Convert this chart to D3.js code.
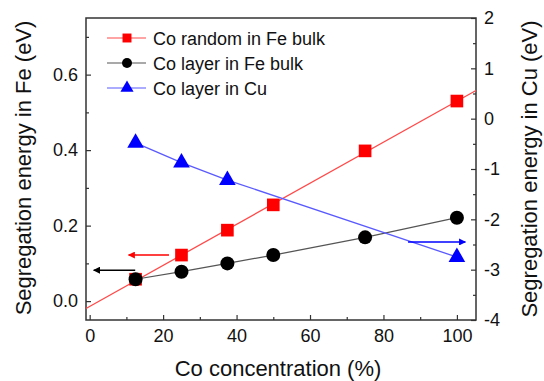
<!DOCTYPE html>
<html><head><meta charset="utf-8">
<script src="https://cdn.jsdelivr.net/npm/d3@7/dist/d3.min.js"></script>
<style>body{margin:0;background:#fff}svg{display:block;font-family:"Liberation Sans",Arial,sans-serif}</style>
</head><body><svg id="c" width="544" height="381"></svg>
<script>
// Data
const xRandom = [12.5, 25, 37.5, 50, 75, 100];
const yRandom = [0.058, 0.122, 0.188, 0.255, 0.398, 0.530];
const redFit = [[-1, -0.0195], [105.2, 0.558]];
const xLayerFe = [12.5, 25, 37.5, 50, 75, 100];
const yLayerFe = [0.058, 0.078, 0.100, 0.122, 0.169, 0.221];
const xLayerCu = [12.5, 25, 37.5, 100];
const yLayerCu = [-0.48, -0.875, -1.22, -2.75];
const xTicks = [0, 20, 40, 60, 80, 100];
const yLeftTicks = [0.0, 0.2, 0.4, 0.6];
const yRightTicks = [-4, -3, -2, -1, 0, 1, 2];
const legendLabels = ["Co random in Fe bulk", "Co layer in Fe bulk", "Co layer in Cu"];
// arrows: [x1, x2, y, axis]
const arrows = [
  {x1: 21.6, x2: 10.6, y: 0.122, axis: "left", color: "#ff0000"},
  {x1: 12.4, x2: 1.1, y: 0.082, axis: "left", color: "#000000"},
  {x1: 86.7, x2: 102.3, y: -2.45, axis: "right", color: "#0000ff"}
];

const svg = d3.select("#c");
const L = 86, R = 476, T = 18, B = 320;
const x = d3.scaleLinear().domain([-1, 105.2]).range([L, R]);
const yL = d3.scaleLinear().domain([-0.05, 0.75]).range([B, T]);
const yR = d3.scaleLinear().domain([-4, 2]).range([B, T]);

const defs = svg.append("defs");
arrows.forEach((a, i) => {
  defs.append("marker").attr("id", "ah" + i).attr("viewBox", "0 0 10 10")
    .attr("refX", 9).attr("refY", 5).attr("markerWidth", 9).attr("markerHeight", 7)
    .attr("markerUnits", "userSpaceOnUse").attr("orient", "auto")
    .append("path").attr("d", "M0,0L10,5L0,10Z").attr("fill", a.color);
});

// Axes
const axisColor = "#333";
const gB = svg.append("g").attr("transform", `translate(0,${B})`)
  .call(d3.axisBottom(x).tickValues(xTicks).tickSize(-5).tickPadding(9).tickFormat(d3.format("d")));
const gBm = svg.append("g").attr("transform", `translate(0,${B})`)
  .call(d3.axisBottom(x).tickValues(d3.range(10, 101, 20)).tickSize(-3).tickFormat(""));
const gL = svg.append("g").attr("transform", `translate(${L},0)`)
  .call(d3.axisLeft(yL).tickValues(yLeftTicks).tickSize(-5).tickPadding(8).tickFormat(d3.format(".1f")));
const gLm = svg.append("g").attr("transform", `translate(${L},0)`)
  .call(d3.axisLeft(yL).tickValues([0.1, 0.3, 0.5, 0.7]).tickSize(-3).tickFormat(""));
const gR = svg.append("g").attr("transform", `translate(${R},0)`)
  .call(d3.axisRight(yR).tickValues(yRightTicks).tickSize(-5).tickPadding(8).tickFormat(d => String(d)));
const gRm = svg.append("g").attr("transform", `translate(${R},0)`)
  .call(d3.axisRight(yR).tickValues(d3.range(-3.5, 2, 1)).tickSize(-3).tickFormat(""));
[gB, gBm, gL, gLm, gR, gRm].forEach(g => {
  g.select(".domain").remove();
  g.selectAll("line").attr("stroke", axisColor).attr("stroke-width", 1.2);
  g.selectAll("text").attr("font-size", 18).attr("fill", "#111")
    .attr("font-family", '"Liberation Sans",Arial,sans-serif');
});
gR.selectAll("text").attr("text-anchor", "start");
svg.append("rect").attr("x", L).attr("y", T).attr("width", R - L).attr("height", B - T)
  .attr("fill", "none").attr("stroke", axisColor).attr("stroke-width", 1.5);

// Titles
svg.append("text").attr("transform", `translate(31,${(T + B) / 2 - 1}) rotate(-90)`)
  .attr("text-anchor", "middle").attr("font-size", 22).attr("fill", "#111")
  .text("Segregation energy in Fe (eV)");
svg.append("text").attr("transform", `translate(537,${(T + B) / 2}) rotate(-90)`)
  .attr("text-anchor", "middle").attr("font-size", 22).attr("fill", "#111")
  .text("Segregation energy in Cu (eV)");
svg.append("text").attr("x", (L + R) / 2 - 3).attr("y", 376)
  .attr("text-anchor", "middle").attr("font-size", 22).attr("fill", "#111")
  .text("Co concentration (%)");

// Series
const line = d3.line();
svg.append("path").datum(redFit.map(d => [x(d[0]), yL(d[1])])).attr("d", line)
  .attr("fill", "none").attr("stroke", "#ff4a4a").attr("stroke-width", 1.3);
svg.selectAll(".sq").data(xRandom.map((v, i) => [v, yRandom[i]])).enter()
  .append("path").attr("d", d3.symbol(d3.symbolSquare, 160)())
  .attr("transform", d => `translate(${x(d[0])},${yL(d[1])})`).attr("fill", "#ff0000");

svg.append("path").datum(xLayerFe.map((v, i) => [x(v), yL(yLayerFe[i])])).attr("d", line)
  .attr("fill", "none").attr("stroke", "#555").attr("stroke-width", 1.2);
svg.selectAll(".ci").data(xLayerFe.map((v, i) => [v, yLayerFe[i]])).enter()
  .append("circle").attr("cx", d => x(d[0])).attr("cy", d => yL(d[1])).attr("r", 7)
  .attr("fill", "#000");

svg.append("path").datum(xLayerCu.map((v, i) => [x(v), yR(yLayerCu[i])])).attr("d", line)
  .attr("fill", "none").attr("stroke", "#5a5aff").attr("stroke-width", 1.3);
svg.selectAll(".tr").data(xLayerCu.map((v, i) => [v, yLayerCu[i]])).enter()
  .append("path").attr("d", d3.symbol(d3.symbolTriangle, 120)())
  .attr("transform", d => `translate(${x(d[0])},${yR(d[1])})`).attr("fill", "#0000ff");

// Arrows
arrows.forEach((a, i) => {
  const ys = a.axis === "left" ? yL : yR;
  svg.append("line").attr("x1", x(a.x1)).attr("x2", x(a.x2))
    .attr("y1", ys(a.y)).attr("y2", ys(a.y))
    .attr("stroke", a.color).attr("stroke-width", 1.5).attr("marker-end", `url(#ah${i})`);
});

// Legend
const legColors = ["#ff4a4a", "#555", "#5a5aff"];
const legFill = ["#ff0000", "#000", "#0000ff"];
const legY = [38, 63, 88];
legendLabels.forEach((lab, i) => {
  const g = svg.append("g").attr("transform", `translate(0,${legY[i]})`);
  g.append("line").attr("x1", 107).attr("x2", 146).attr("stroke", legColors[i]).attr("stroke-width", 1.2);
  if (i === 0) g.append("path").attr("d", d3.symbol(d3.symbolSquare, 80)()).attr("transform", "translate(127,0)").attr("fill", legFill[i]);
  if (i === 1) g.append("circle").attr("cx", 127).attr("r", 5).attr("fill", legFill[i]);
  if (i === 2) g.append("path").attr("d", d3.symbol(d3.symbolTriangle, 75)()).attr("transform", "translate(127,0)").attr("fill", legFill[i]);
  g.append("text").attr("x", 153).attr("y", 6.5).attr("font-size", 18).attr("fill", "#111").text(lab);
});
</script></body></html>
